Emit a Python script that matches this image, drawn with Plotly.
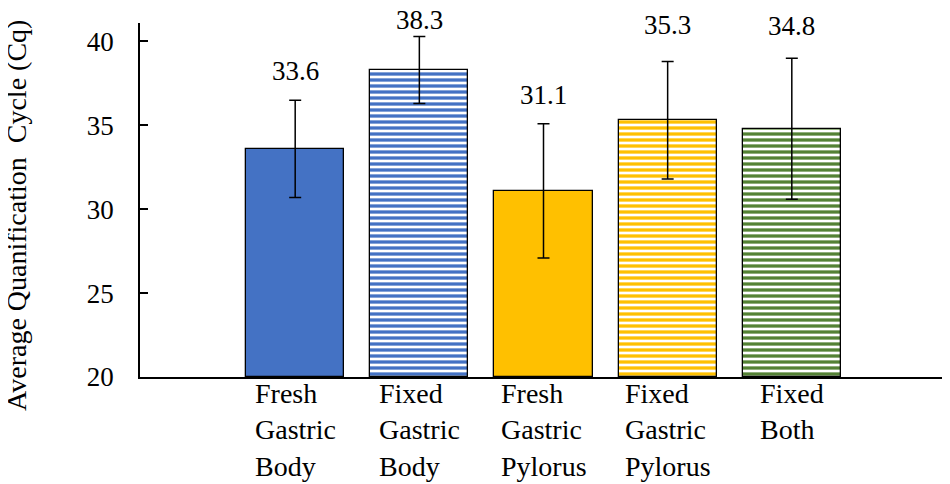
import plotly.graph_objects as go

# ---- data ----
categories = ["Fresh<br>Gastric<br>Body", "Fixed<br>Gastric<br>Body", "Fresh<br>Gastric<br>Pylorus",
              "Fixed<br>Gastric<br>Pylorus", "Fixed<br>Both"]
means = [33.6, 38.3, 31.1, 35.3, 34.8]
errors = [2.9, 2.0, 4.0, 3.5, 4.2]
value_labels = ["33.6", "38.3", "31.1", "35.3", "34.8"]
y_title = "Average Quanification \u00a0Cycle (Cq)"
y_ticks = [20, 25, 30, 35, 40]

# ---- styles ----
colors = ["#4472C4", "#4472C4", "#FFC000", "#FFC000", "#548235"]
shapes = ["", "-", "", "-", "-"]
label_shift = [12, -1, 12, 20, 15]
FONT = "Liberation Serif"

x_pos = list(range(len(categories)))

fig = go.Figure()
for i in x_pos:
    fig.add_trace(go.Bar(
        x=[x_pos[i]], y=[means[i] - 20], base=20,
        width=0.79,
        marker=dict(
            color=colors[i],
            line=dict(color="black", width=1.3),
            pattern=dict(shape=shapes[i], fgcolor=colors[i], bgcolor="white",
                         size=6, solidity=0.55, fillmode="replace") if shapes[i] else None,
        ),
        error_y=dict(type="data", array=[errors[i]], visible=True,
                     color="black", thickness=1.5, width=6),
        showlegend=False, hoverinfo="skip",
    ))

annotations = []
for i in x_pos:
    annotations.append(dict(
        x=x_pos[i], y=means[i] + errors[i], xref="x", yref="y",
        text=value_labels[i], showarrow=False, yanchor="bottom", xanchor="center",
        yshift=label_shift[i], font=dict(family=FONT, size=27, color="black"),
    ))
    annotations.append(dict(
        x=x_pos[i], y=0, xref="x", yref="paper",
        text=categories[i], showarrow=False, yanchor="top", xanchor="center",
        align="left", yshift=1, font=dict(family=FONT, size=28, color="black"),
    ))
annotations.append(dict(
    x=-0.1524, y=0.455, xref="paper", yref="paper", text=y_title, textangle=-90,
    showarrow=False, xanchor="center", yanchor="middle",
    font=dict(family=FONT, size=28, color="black"),
))

fig.update_layout(
    width=942, height=476,
    margin=dict(l=132, r=3, t=15, b=107),
    paper_bgcolor="white", plot_bgcolor="white",
    font=dict(family=FONT, color="black"),
    annotations=annotations,
    bargap=0,
    xaxis=dict(range=[-1.25, 5.25], showticklabels=False, ticks="", showgrid=False,
               zeroline=False, showline=True, linecolor="black", linewidth=1.5),
    yaxis=dict(range=[20, 41.1], tickvals=y_ticks, ticks="inside", ticklen=8,
               tickcolor="black", tickwidth=1.5, showgrid=False, zeroline=False,
               showline=True, linecolor="black", linewidth=1.5,
               ticklabelstandoff=19,
               tickfont=dict(family=FONT, size=27, color="black")),
)

fig.write_html("out.html")
